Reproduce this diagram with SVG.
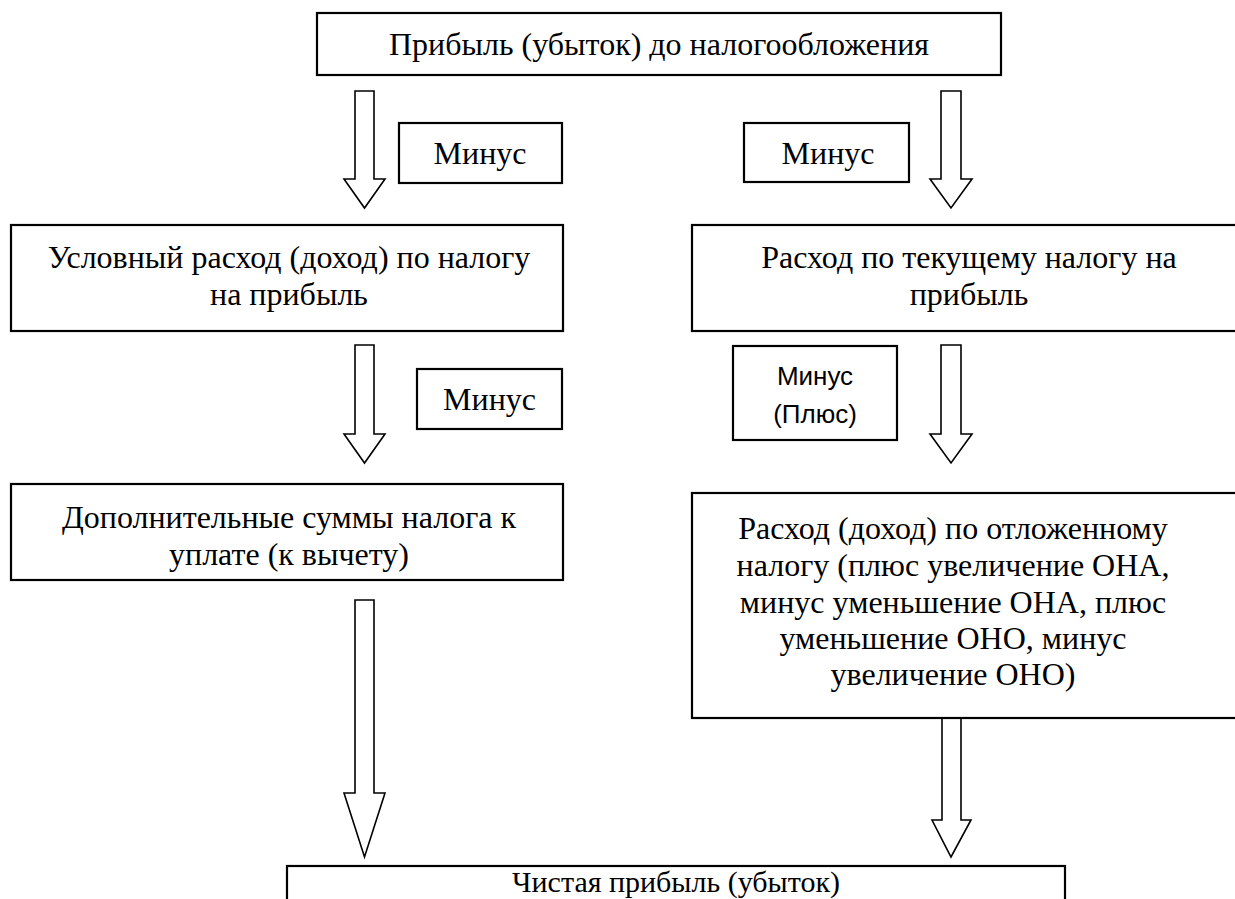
<svg xmlns="http://www.w3.org/2000/svg" width="1235" height="899" viewBox="0 0 1235 899">
<style>
.box{fill:#fff;stroke:#000;stroke-width:2.2}
.arr{fill:#fff;stroke:#000;stroke-width:1.6;stroke-linejoin:miter}
.t{font-family:"Liberation Serif","Times New Roman",serif;font-size:32px;fill:#000;text-anchor:middle}
.s{font-family:"Liberation Sans",Arial,sans-serif;font-size:26px;fill:#000;text-anchor:middle}
</style>
<rect width="1235" height="899" fill="#fff"/>
<g id="connectors">
<path class="arr" d="M355,91 H374 V179 H385 L364.5,208 L344,179 H355 Z"/>
<path class="arr" d="M941,91 H961 V179 H972 L951,208 L930,179 H941 Z"/>
<path class="arr" d="M355,345 H374 V434 H385 L364.5,463 L344,434 H355 Z"/>
<path class="arr" d="M941,345 H961 V434 H972 L951,463 L930,434 H941 Z"/>
<path class="arr" d="M355,600 H374 V793 H385 L364.5,857 L344,793 H355 Z"/>
<path class="arr" d="M942,718 H961 V820 H971 L951,857 L932,820 H942 Z"/>
</g>
<g id="n_top"><rect class="box" x="317" y="13" width="684" height="62"/><text class="t" x="659" y="55">Прибыль (убыток) до налогообложения</text></g>
<g id="n_minus1"><rect class="box" x="399" y="123" width="163" height="60"/><text class="t" x="480" y="164">Минус</text></g>
<g id="n_minus2"><rect class="box" x="744" y="123" width="165" height="59"/><text class="t" x="828" y="164">Минус</text></g>
<g id="n_cond"><rect class="box" x="11" y="225" width="552" height="106"/><text class="t" x="289" y="268">Условный расход (доход) по налогу</text><text class="t" x="289" y="305">на прибыль</text></g>
<g id="n_curr"><rect class="box" x="692" y="225" width="550" height="106"/><text class="t" x="969" y="268">Расход по текущему налогу на</text><text class="t" x="969" y="305">прибыль</text></g>
<g id="n_minus3"><rect class="box" x="417" y="369" width="145" height="60"/><text class="t" x="489.5" y="410">Минус</text></g>
<g id="n_minus4"><rect class="box" x="733" y="346" width="164" height="94"/><text class="s" x="815" y="385">Минус</text><text class="s" x="815" y="423">(Плюс)</text></g>
<g id="n_add"><rect class="box" x="11" y="484" width="552" height="96"/><text class="t" x="289" y="528">Дополнительные суммы налога к</text><text class="t" x="289" y="565">уплате (к вычету)</text></g>
<g id="n_def"><rect class="box" x="692" y="493" width="550" height="225"/><text class="t" x="953" y="539">Расход (доход) по отложенному</text><text class="t" x="953" y="576">налогу (плюс увеличение ОНА,</text><text class="t" x="953" y="613">минус уменьшение ОНА, плюс</text><text class="t" x="953" y="649">уменьшение ОНО, минус</text><text class="t" x="953" y="685">увеличение ОНО)</text></g>
<g id="n_net"><rect class="box" x="287" y="866" width="778" height="45"/><text class="t" x="676" y="892" style="font-size:30px">Чистая прибыль (убыток)</text></g>
</svg>
